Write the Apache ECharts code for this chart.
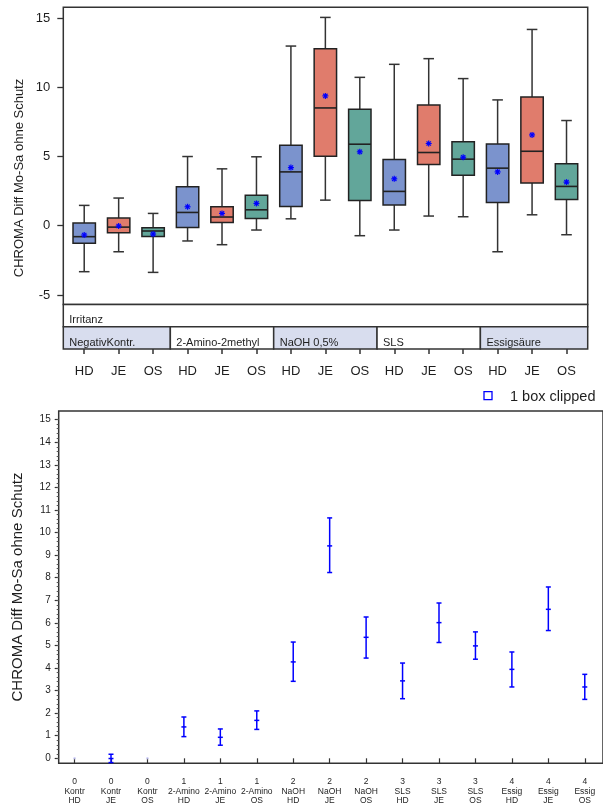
<!DOCTYPE html>
<html>
<head>
<meta charset="utf-8">
<script src="https://cdn.jsdelivr.net/npm/echarts@6/dist/echarts.min.js"></script>
<style>
  html, body { margin: 0; padding: 0; background: #ffffff; }
  #chart { width: 603px; height: 810px; }
</style>
</head>
<body>
<div id="chart"></div>
<script>
// Irritant groups and measuring sites
const groupNames = ['NegativKontr.', '2-Amino-2methyl', 'NaOH 0,5%', 'SLS', 'Essigsäure'];
const groupShort = ['Kontr', '2-Amino', 'NaOH', 'SLS', 'Essig'];
const groupCodes = ['0', '1', '2', '3', '4'];
const sites = ['HD', 'JE', 'OS'];
const rowTitle = 'Irritanz';
const yTitle = 'CHROMA Diff Mo-Sa ohne Schutz';
const clipNote = '1 box clipped';

// Box plot statistics, one entry per group x site (HD, JE, OS)
const whiskerLow  = [-3.32, -1.88, -3.37, -1.10, -1.37, -0.31, 0.50, 1.85, -0.72, -0.31, 0.70, 0.65, -1.88, 0.79, -0.65];
const quartile1   = [-1.27, -0.50, -0.77, -0.12, 0.24, 0.53, 1.39, 5.02, 1.83, 1.49, 4.42, 3.65, 1.68, 3.08, 1.90];
const medians     = [-0.79, -0.10, -0.38, 0.96, 0.63, 1.15, 3.89, 8.51, 5.89, 2.48, 5.29, 4.81, 4.16, 5.38, 2.84];
const quartile3   = [0.19, 0.55, -0.14, 2.81, 1.37, 2.21, 5.82, 12.79, 8.41, 4.78, 8.73, 6.06, 5.91, 9.30, 4.47];
const whiskerHigh = [1.47, 2.00, 0.89, 5.00, 4.11, 4.98, 12.98, 15.05, 10.72, 11.66, 12.07, 10.63, 9.09, 14.18, 7.60];
const boxMeans    = [-0.67, -0.02, -0.60, 1.37, 0.89, 1.61, 4.20, 9.38, 5.34, 3.39, 5.94, 4.95, 3.89, 6.56, 3.15];

// Mean with confidence limits (lower panel); null = outside the displayed range
const ciLow  = [null, -0.19, null, 0.96, 0.58, 1.28, 3.41, 8.23, 4.44, 2.64, 5.13, 4.39, 3.16, 5.66, 2.61];
const ciMean = [null, -0.01, null, 1.39, 0.93, 1.68, 4.27, 9.41, 5.36, 3.43, 6.01, 4.98, 3.94, 6.60, 3.16];
const ciHigh = [null, 0.18, null, 1.83, 1.30, 2.10, 5.15, 10.65, 6.26, 4.22, 6.88, 5.60, 4.71, 7.59, 3.72];
const flatMarks = [0, null, 0, null, null, null, null, null, null, null, null, null, null, null, null];

// Tick values
const topTicks = [-5, 0, 5, 10, 15];
const bottomTicks = [0, 1, 2, 3, 4, 5, 6, 7, 8, 9, 10, 11, 12, 13, 14, 15];

// Styling
const siteFill = ['#7b93cd', '#e07c6c', '#62a69a'];
const bandFill = ['#d8ddee', '#ffffff'];
const FONT = 'Liberation Sans, Arial, sans-serif';
const INK = '#1e1e1e';
const LINE = '#333333';

const positions = medians.map((_, i) => i + 1);
const minorTicks = [];
for (let k = 0; k <= 75; k++) minorTicks.push(+(k * 0.2).toFixed(1));

const boxData = positions.map((x, i) => [x, whiskerLow[i], quartile1[i], medians[i], quartile3[i], whiskerHigh[i], boxMeans[i], i % 3]);
const ciData = positions.map((x, i) => [x, ciLow[i], ciMean[i], ciHigh[i]]).filter(r => r[2] !== null);
const flatData = positions.map((x, i) => [x, flatMarks[i]]).filter(r => r[1] !== null);
const bandData = groupNames.map((name, g) => [g * 3 + 0.5, g * 3 + 3.5, g]);

// Asterisk-shaped mean marker
function meanStar(cx, cy, r) {
  const s = { stroke: '#0000ff', lineWidth: 1.2 };
  const d = r * 0.72;
  return [
    { type: 'line', shape: { x1: cx - r, y1: cy, x2: cx + r, y2: cy }, style: s },
    { type: 'line', shape: { x1: cx, y1: cy - r, x2: cx, y2: cy + r }, style: s },
    { type: 'line', shape: { x1: cx - d, y1: cy - d, x2: cx + d, y2: cy + d }, style: s },
    { type: 'line', shape: { x1: cx - d, y1: cy + d, x2: cx + d, y2: cy - d }, style: s },
    { type: 'circle', shape: { cx: cx, cy: cy, r: 1.3 }, style: { fill: '#0000ff' } }
  ];
}

function renderBox(params, api) {
  const x = api.value(0);
  const lo = api.coord([x, api.value(1)]);
  const b1 = api.coord([x, api.value(2)]);
  const md = api.coord([x, api.value(3)]);
  const b3 = api.coord([x, api.value(4)]);
  const hi = api.coord([x, api.value(5)]);
  const mn = api.coord([x, api.value(6)]);
  const site = api.value(7);
  const cx = lo[0];
  const half = 11.2, cap = 5.3;
  const wStyle = { stroke: LINE, lineWidth: 1.5 };
  return {
    type: 'group',
    children: [
      { type: 'line', shape: { x1: cx, y1: hi[1], x2: cx, y2: b3[1] }, style: wStyle },
      { type: 'line', shape: { x1: cx, y1: b1[1], x2: cx, y2: lo[1] }, style: wStyle },
      { type: 'line', shape: { x1: cx - cap, y1: hi[1], x2: cx + cap, y2: hi[1] }, style: wStyle },
      { type: 'line', shape: { x1: cx - cap, y1: lo[1], x2: cx + cap, y2: lo[1] }, style: wStyle },
      { type: 'rect', shape: { x: cx - half, y: b3[1], width: half * 2, height: b1[1] - b3[1] },
        style: { fill: siteFill[site], stroke: '#222222', lineWidth: 1.5 } },
      { type: 'line', shape: { x1: cx - half, y1: md[1], x2: cx + half, y2: md[1] },
        style: { stroke: '#222222', lineWidth: 1.6 } }
    ].concat(meanStar(mn[0], mn[1], 3))
  };
}

function renderBands(params, api) {
  const cs = params.coordSys;
  const g = api.value(2);
  let x0 = api.coord([api.value(0), 1])[0];
  let x1 = api.coord([api.value(1), 1])[0];
  if (g === 0) x0 = cs.x;
  if (g === groupNames.length - 1) x1 = cs.x + cs.width;
  const yMid = api.coord([1, 1])[1];
  const yTop = api.coord([1, 2])[1];
  const yBot = api.coord([1, 0])[1];
  const children = [
    { type: 'rect', shape: { x: x0, y: yMid, width: x1 - x0, height: yBot - yMid },
      style: { fill: bandFill[g % 2], stroke: LINE, lineWidth: 1.5 } },
    { type: 'text', x: x0 + 6, y: yBot - 6.5,
      style: { text: groupNames[g], fill: INK, fontSize: 11, fontFamily: FONT, align: 'left', verticalAlign: 'middle' } }
  ];
  if (g === 0) {
    children.unshift(
      { type: 'rect', shape: { x: cs.x, y: yTop, width: cs.width, height: yMid - yTop },
        style: { fill: '#ffffff', stroke: LINE, lineWidth: 1.5 } },
      { type: 'text', x: cs.x + 6, y: yMid - 6.5,
        style: { text: rowTitle, fill: INK, fontSize: 11, fontFamily: FONT, align: 'left', verticalAlign: 'middle' } }
    );
  }
  return { type: 'group', children: children };
}

function renderCI(params, api) {
  const x = api.value(0);
  const lo = api.coord([x, api.value(1)]);
  const mid = api.coord([x, api.value(2)]);
  const hi = api.coord([x, api.value(3)]);
  const w = 2.5;
  const s = { stroke: '#0000ff', lineWidth: 1.5 };
  return {
    type: 'group',
    children: [
      { type: 'line', shape: { x1: lo[0], y1: lo[1], x2: hi[0], y2: hi[1] }, style: s },
      { type: 'line', shape: { x1: lo[0] - w, y1: lo[1], x2: lo[0] + w, y2: lo[1] }, style: s },
      { type: 'line', shape: { x1: hi[0] - w, y1: hi[1], x2: hi[0] + w, y2: hi[1] }, style: s },
      { type: 'line', shape: { x1: mid[0] - w, y1: mid[1], x2: mid[0] + w, y2: mid[1] }, style: s }
    ]
  };
}

const topX = { min: 0.393, max: 15.615 };
const botX = { min: 0.565, max: 15.5 };

const chart = echarts.init(document.getElementById('chart'), null, { renderer: 'canvas' });

chart.setOption({
  animation: false,
  backgroundColor: '#ffffff',
  textStyle: { fontFamily: FONT },
  grid: [
    { left: 63.3, top: 7.3, width: 524.4, height: 297.2, show: true, borderColor: LINE, borderWidth: 1.5, backgroundColor: 'transparent' },
    { left: 63.3, top: 304.5, width: 524.4, height: 44.5 },
    { left: 58.7, top: 411, width: 548.9, height: 352.3, show: true, borderColor: LINE, borderWidth: 1.5, backgroundColor: 'transparent' }
  ],
  xAxis: [
    { gridIndex: 0, type: 'value', min: topX.min, max: topX.max,
      axisLine: { show: false }, axisTick: { show: false }, axisLabel: { show: false }, splitLine: { show: false } },
    { gridIndex: 1, type: 'value', min: topX.min, max: topX.max, position: 'bottom',
      axisLine: { show: false }, splitLine: { show: false },
      axisTick: { show: true, customValues: positions, length: 5, lineStyle: { color: LINE, width: 1.5 } },
      axisLabel: { customValues: positions, margin: 15.5, fontSize: 13, color: INK, fontFamily: FONT,
        formatter: v => sites[(Math.round(v) - 1) % 3] } },
    { gridIndex: 2, type: 'value', min: botX.min, max: botX.max, position: 'bottom', offset: 3.4,
      axisLine: { show: false }, splitLine: { show: false },
      axisTick: { show: true, customValues: positions, length: 5, lineStyle: { color: LINE, width: 1.2 } },
      axisLabel: { customValues: positions, margin: 10.5, fontSize: 8.5, lineHeight: 9.4, color: INK, fontFamily: FONT,
        formatter: v => { const i = Math.round(v) - 1; const g = Math.floor(i / 3);
          return groupCodes[g] + '\n' + groupShort[g] + '\n' + sites[i % 3]; } } }
  ],
  yAxis: [
    { gridIndex: 0, type: 'value', min: -5.69, max: 15.78, position: 'left',
      axisLine: { show: false }, splitLine: { show: false },
      axisTick: { show: true, customValues: topTicks, length: 6, lineStyle: { color: LINE, width: 1.3 } },
      axisLabel: { customValues: topTicks, margin: 13, fontSize: 13, color: INK, fontFamily: FONT } },
    { gridIndex: 1, type: 'value', min: 0, max: 2, show: false },
    { gridIndex: 2, type: 'value', min: -0.2215, max: 15.386, position: 'left',
      axisLine: { show: false }, splitLine: { show: false },
      axisTick: { show: true, customValues: bottomTicks, length: 4, lineStyle: { color: LINE, width: 1.2 } },
      axisLabel: { customValues: bottomTicks, margin: 8, fontSize: 10, color: INK, fontFamily: FONT } },
    { gridIndex: 2, type: 'value', min: -0.2215, max: 15.386, position: 'left', offset: 0,
      axisLine: { show: false }, splitLine: { show: false }, axisLabel: { show: false },
      axisTick: { show: true, customValues: minorTicks, length: 2, lineStyle: { color: '#555555', width: 1 } } }
  ],
  graphic: [
    { type: 'text', x: 19, y: 178, rotation: Math.PI / 2,
      style: { text: yTitle, fontSize: 13, fontFamily: FONT, fill: INK, align: 'center', verticalAlign: 'middle' } },
    { type: 'text', x: 17.5, y: 587, rotation: Math.PI / 2,
      style: { text: yTitle, fontSize: 15, fontFamily: FONT, fill: INK, align: 'center', verticalAlign: 'middle' } },
    { type: 'rect', shape: { x: 484, y: 391.7, width: 8, height: 8 },
      style: { fill: 'transparent', stroke: '#0000ff', lineWidth: 1.3 } },
    { type: 'text', x: 510, y: 396.5,
      style: { text: clipNote, fontSize: 14.5, fontFamily: FONT, fill: INK, align: 'left', verticalAlign: 'middle' } }
  ],
  series: [
    { type: 'custom', name: 'box', xAxisIndex: 0, yAxisIndex: 0, data: boxData, renderItem: renderBox,
      encode: { x: 0, y: [1, 2, 3, 4, 5] }, clip: false },
    { type: 'custom', name: 'bands', xAxisIndex: 1, yAxisIndex: 1, data: bandData, renderItem: renderBands,
      encode: { x: [0, 1] }, clip: false },
    { type: 'custom', name: 'ci', xAxisIndex: 2, yAxisIndex: 2, data: ciData, renderItem: renderCI,
      encode: { x: 0, y: [1, 2, 3] }, clip: false },
    { type: 'scatter', name: 'flat', xAxisIndex: 2, yAxisIndex: 2, data: flatData, symbol: 'circle', symbolSize: 2.5,
      itemStyle: { color: '#c4c4f4' }, silent: true }
  ]
});
</script>
</body>
</html>
